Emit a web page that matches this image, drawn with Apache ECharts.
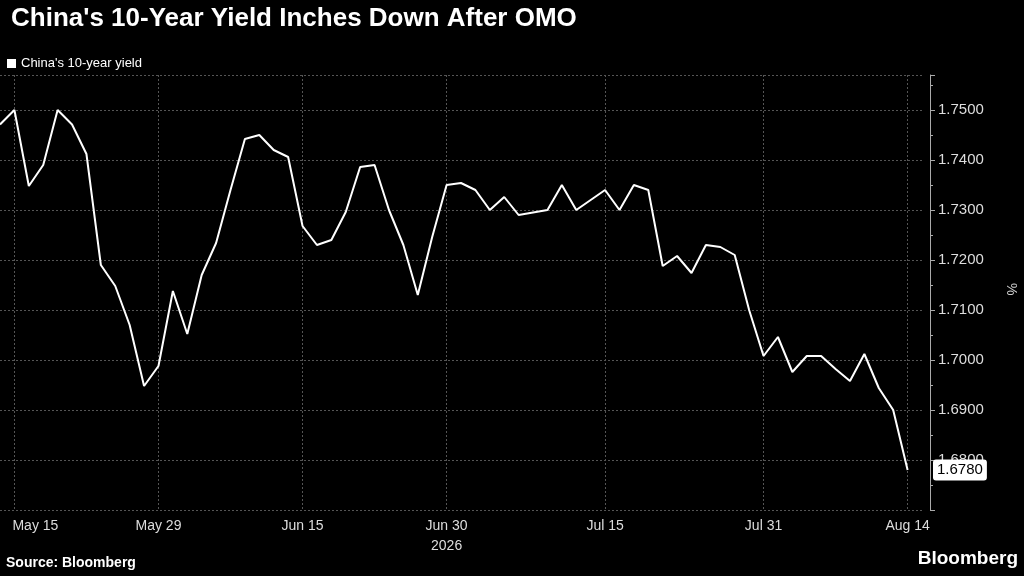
<!DOCTYPE html>
<html><head><meta charset="utf-8">
<script src="https://cdn.jsdelivr.net/npm/echarts@6/dist/echarts.min.js"></script>
<style>html,body{margin:0;background:#000}#c{width:1024px;height:576px}</style>
</head><body><div id="c"></div>
<script>
const yields = [1.7471,1.7500,1.7348,1.7390,1.7500,1.7471,1.7412,1.7190,1.7148,1.7070,1.6948,1.6988,1.7138,1.7052,1.7170,1.7234,1.7340,1.7442,1.7450,1.7420,1.7406,1.7268,1.7230,1.7240,1.7296,1.7386,1.7390,1.7300,1.7230,1.7130,1.7246,1.7350,1.7354,1.7340,1.7300,1.7326,1.7290,1.7295,1.7300,1.7350,1.7300,1.7320,1.7340,1.7300,1.7350,1.7340,1.7188,1.7208,1.7174,1.7230,1.7226,1.7210,1.7100,1.7008,1.7046,1.6976,1.7008,1.7008,1.6982,1.6958,1.7012,1.6944,1.6900,1.6780];
const tickIdx = [1,11,21,31,42,53,63];
const tickLabels = ['May 15','May 29','Jun 15','Jun 30\n2026','Jul 15','Jul 31','Aug 14'];
const lastValue = 1.6780;
const cats = yields.map((_, i) => String(i)).concat(['pad1']);
const chart = echarts.init(document.getElementById('c'));
chart.setOption({
  backgroundColor:'#000',
  animation:false,
  title:{text:"China's 10-Year Yield Inches Down After OMO",left:6,top:1,textStyle:{color:'#fff',fontSize:26,fontWeight:'bold',fontFamily:'Liberation Sans'}},
  legend:{left:2,top:52,icon:'rect',itemWidth:9,itemHeight:9,itemGap:4,textStyle:{color:'#fff',fontSize:13,fontFamily:'Liberation Sans'},data:["China's 10-year yield"]},
  graphic:[
    {type:'text',left:6,top:556,style:{text:'Source: Bloomberg',fill:'#fff',font:'bold 14px Liberation Sans'}},
    {type:'text',right:6,top:549,style:{text:'Bloomberg',fill:'#fff',font:'bold 19px Liberation Sans'}},
    {type:'text',left:1004,top:283,rotation:-Math.PI/2,style:{text:'%',fill:'#ccc',font:'14px Liberation Sans'}}
  ],
  grid:{left:0,right:102,top:75,bottom:66,outerBoundsMode:'none',containLabel:false},
  xAxis:{type:'category',data:cats,boundaryGap:false,
    axisLine:{show:false},axisTick:{show:false},
    axisLabel:{interval:(i)=>tickIdx.includes(i),formatter:(v)=>{const k=tickIdx.indexOf(+v);if(k<0)return '';return k===0?'{f|'+tickLabels[k]+'}':tickLabels[k];},
      rich:{f:{padding:[0,0,0,42],color:'#ddd',fontSize:14,fontFamily:'Liberation Sans'}},
      color:'#ddd',fontSize:14,fontFamily:'Liberation Sans',margin:6,lineHeight:20},
    splitLine:{show:true,interval:(i)=>tickIdx.includes(i),lineStyle:{color:'#555',type:[2,2]}}},
  yAxis:{type:'value',position:'right',offset:8,min:1.67,max:1.757,interval:0.01,
    axisLine:{show:true,lineStyle:{color:'#aaa'}},axisTick:{show:true,length:5,lineStyle:{color:'#aaa'}},
    minorTick:{show:true,splitNumber:2,length:3,lineStyle:{color:'#aaa'}},
    axisLabel:{formatter:v=>v.toFixed(4),color:'#ddd',fontSize:15,fontFamily:'Liberation Sans',margin:8,showMaxLabel:false,showMinLabel:false},
    splitLine:{show:true,lineStyle:{color:'#555',type:[2,2]}},
    axisPointer:{show:true,value:lastValue,status:'show',lineStyle:{opacity:0},triggerTooltip:false,
      label:{formatter:p=>p.value.toFixed(4),backgroundColor:'#fff',color:'#000',fontSize:15,fontFamily:'Liberation Sans',padding:[3,4],margin:3}}},
  axisPointer:{triggerOn:'none'},
  series:[{name:"China's 10-year yield",type:'line',data:yields,symbol:'none',lineStyle:{color:'#fff',width:2},itemStyle:{color:'#fff'}}]
});
</script></body></html>
